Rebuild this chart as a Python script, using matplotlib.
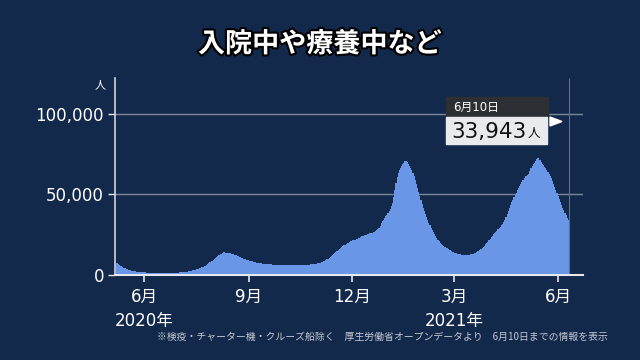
import numpy as np
import pandas as pd
import matplotlib
matplotlib.use("Agg")
import matplotlib.pyplot as plt
import matplotlib.dates as mdates
import matplotlib.patheffects as pe
from matplotlib.patches import Rectangle, Polygon

plt.rcParams['font.family'] = ['Noto Sans CJK JP', 'DejaVu Sans']
NUM_FONT = ['DejaVu Sans', 'Noto Sans CJK JP']

# daily count of people hospitalized / recuperating, 2020-05-08 .. 2021-06-10
start_date = '2020-05-08'
patients = [
    7000, 6500, 6000, 5500, 5100, 4700, 4300, 3950, 3600, 3300, 3050, 2850,
    2650, 2450, 2300, 2100, 1950, 1800, 1700, 1600, 1520, 1450, 1400, 1350,
    1300, 1250, 1200, 1150, 1100, 1060, 1030, 1000, 980, 960, 950, 940,
    930, 920, 920, 920, 930, 940, 950, 960, 970, 980, 1000, 1010,
    1030, 1050, 1060, 1080, 1100,
    1150, 1200, 1260, 1320, 1390, 1460, 1540, 1620, 1710, 1820, 1960, 2120,
    2290, 2460, 2640, 2820, 3000, 3200,
    3450, 3700, 4000, 4300, 4600, 4900, 5200, 5550, 5900, 6400, 6900, 7500,
    8100, 8600, 9000, 9600, 10200, 10800, 11400, 12000, 12500, 13000, 13500,
    13800, 13700, 13600, 13500, 13400, 13300, 13100, 12900, 12700, 12500, 12200,
    11900, 11600, 11400, 11100, 10800, 10500, 10200, 9900, 9600, 9300, 9000,
    8800, 8600, 8400, 8200, 8000, 7800, 7600, 7450, 7300, 7150, 7000,
    6900, 6800, 6700, 6650, 6550, 6500, 6400, 6350, 6300, 6250, 6200, 6150,
    6100, 6080, 6050, 6000, 5980, 5960, 5950, 5940, 5930, 5920, 5910, 5900,
    5900, 5880, 5870, 5860, 5860, 5850, 5860, 5860, 5870, 5880, 5890, 5900,
    5910, 5930, 5960, 6000, 6040, 6080, 6130, 6180, 6230, 6280, 6350,
    6450, 6600, 6750, 6900, 7100, 7300, 7600, 7950, 8300, 8700, 9100, 9500,
    9950, 10400, 10900, 11400, 11900, 12500, 13100, 13800, 14500, 15200, 15900, 16600,
    17300, 17700, 18100, 18500, 18900, 19300, 19700, 20200, 20600, 21000, 21200, 21400,
    21600, 21850, 22200, 22600, 23000, 23300, 23700, 24000, 24300, 24500, 24800, 25100,
    25300, 25500, 25700, 26000, 26300, 26600, 27000, 27500, 28000, 28700,
    30000, 31800, 33000, 34000, 35000, 36200, 37300, 38500, 39700, 41000, 42800, 44500,
    48000, 52500, 57000, 60500, 63200, 65000, 66500, 67600, 68500, 69400, 70300, 70800,
    70000, 68800, 67500, 66300, 64800, 63200, 61000, 58800, 56300, 53800, 51400, 48800,
    46300, 43900, 41600, 39600, 37600, 35600, 33700, 32000, 30500, 29000, 27600, 26200,
    25000, 23800, 22700, 21700, 20700, 19900,
    19100, 18400, 17800, 17300, 16800, 16300, 15900, 15400, 15000, 14600, 14200, 13900,
    13600, 13300, 13000, 12800, 12600, 12450, 12300, 12200, 12150, 12100, 12100, 12100,
    12200, 12300, 12500, 12700, 13000, 13300, 13600, 14000, 14400, 14800, 15200, 15800,
    16500, 17200, 17900, 18700, 19500, 20400, 21300, 22300, 23300,
    24200, 24900, 25700, 26500, 27300, 28000, 28700, 29500, 30500, 31600, 32700, 34000,
    35800, 37800, 39800, 41600, 43400, 45000, 46600, 48100, 49500, 50900, 52300, 53700,
    55200, 56500, 57700, 58800, 60000, 61000, 61500, 62000, 62700, 64300, 66000, 67300,
    68500, 69600, 70700, 71700, 72500,
    72700, 71300, 69800, 68800, 67900, 67000, 66000, 65000, 63800, 62500, 61200, 60000,
    58300, 56400, 54400, 52400, 50500, 48700, 46900, 45000, 43200, 41600, 40000, 38500,
    37000, 35400, 33943,
]
month_ticks = ['2020-06-01', '2020-09-01', '2020-12-01', '2021-03-01', '2021-06-01']
month_labels = ['6月', '9月', '12月', '3月', '6月']
year_labels = [('2020-06-01', '2020年'), ('2021-03-01', '2021年')]
y_ticks = [0, 50000, 100000]
last_label = '6月10日'
last_value = '33,943'

BG = '#13294b'
BAR = '#6a96e8'
W, H = 640, 360

dates = pd.date_range(start_date, periods=len(patients), freq='D')
xnum = mdates.date2num(dates)

fig = plt.figure(figsize=(6.4, 3.6), dpi=100, facecolor=BG)
ax = fig.add_axes([115 / W, 1 - 274.5 / H, 468 / W, 196.5 / H])
ax.set_facecolor(BG)

ax.bar(xnum, patients, width=1.0, color=BAR, linewidth=0, zorder=2)

ax.set_xlim(xnum[0] - 1.76, xnum[0] + 410.9)
ax.set_ylim(0, 122200)

for v in y_ticks[1:]:
    ax.axhline(v, color='#7b8799', linewidth=1, zorder=1)
ax.vlines(xnum[-1] + 0.3, 0, 122200, color='#5d6d8a', linewidth=0.8, zorder=3)

for s in ['top', 'right']:
    ax.spines[s].set_visible(False)
ax.spines['left'].set_color('#d0d4dc')
ax.spines['bottom'].set_color('#e6e8ee')
ax.spines['left'].set_linewidth(1.2)
ax.spines['bottom'].set_linewidth(1.5)
ax.spines['bottom'].set_zorder(4)

ax.set_yticks(y_ticks)
ax.set_yticklabels([f'{v:,}' for v in y_ticks], family=NUM_FONT)
ax.tick_params(axis='y', colors='#e6e8ee', labelcolor='white', labelsize=12,
               length=5, width=1, pad=3)
tick_x = mdates.date2num(pd.to_datetime(month_ticks))
ax.set_xticks(tick_x)
ax.set_xticklabels(month_labels, family=NUM_FONT)
ax.tick_params(axis='x', colors='#e6e8ee', labelcolor='white', labelsize=12,
               length=5, width=1.2, pad=5)

for d, lab in year_labels:
    ax.text(mdates.date2num(pd.Timestamp(d)), -0.235, lab, color='white', fontsize=12,
            family=NUM_FONT, ha='center', va='center', transform=ax.get_xaxis_transform())

fig.text(100 / W, 1 - 85 / H, '人', color='white', fontsize=8, ha='center', va='center')

title = fig.text(0.5, 1 - 44 / H, '入院中や療養中など', color='white', fontsize=19.5,
                 fontweight='bold', ha='center', va='center')
title.set_path_effects([pe.withStroke(linewidth=3, foreground='black')])

# latest value label
fig.patches.append(Rectangle((446 / W, 1 - 117 / H), 102 / W, 20 / H,
                             transform=fig.transFigure, color='#2c3035', zorder=5))
fig.patches.append(Rectangle((446 / W, 1 - 144 / H), 101 / W, 27 / H,
                             transform=fig.transFigure, color='#e8eaec', zorder=5))
fig.patches.append(Polygon([(550 / W, 1 - 117 / H), (550 / W, 1 - 126 / H),
                            (562 / W, 1 - 121.5 / H)], closed=True,
                           transform=fig.transFigure, color='white', zorder=5))
fig.text(453 / W, 1 - 107 / H, last_label, color='white', fontsize=8.5,
         family=NUM_FONT, ha='left', va='center', zorder=6)
fig.text(451 / W, 1 - 131.5 / H, last_value, color='#111111', fontsize=15.5,
         family=NUM_FONT, ha='left', va='center', zorder=6)
fig.text(534 / W, 1 - 134 / H, '人', color='#111111', fontsize=9,
         ha='center', va='center', zorder=6)

fig.text(608 / W, 1 - 337 / H,
         '※検疫・チャーター機・クルーズ船除く　厚生労働省オープンデータより　6月10日までの情報を表示',
         color='#c4c9d2', fontsize=7.1, ha='right', va='center')

fig.savefig('out.png', dpi=100, facecolor=BG)
